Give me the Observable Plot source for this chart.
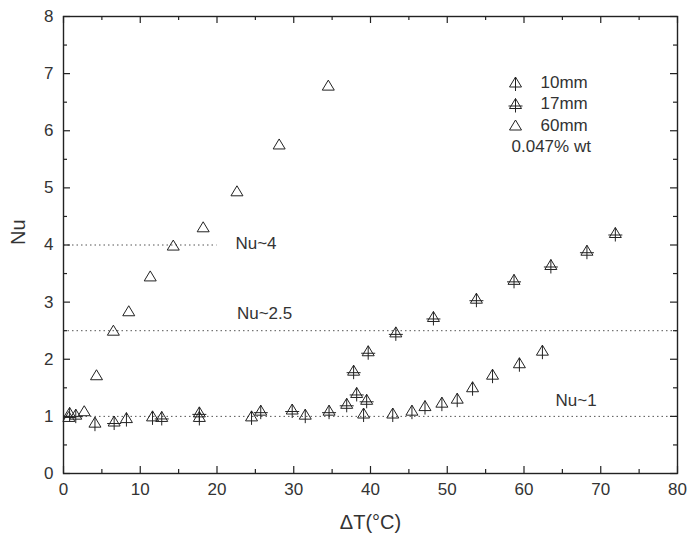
<!DOCTYPE html>
<html>
<head>
<meta charset="utf-8">
<script src="https://cdn.jsdelivr.net/npm/d3@7"></script>
<script src="https://cdn.jsdelivr.net/npm/@observablehq/plot@0.6"></script>
<style>
  html, body { margin: 0; padding: 0; background: #fff; }
  #chart { width: 687px; height: 540px; }
</style>
</head>
<body>
<div id="chart"></div>
<script>
// ---- Data ----
const series = ["10mm", "17mm", "60mm"];

const dT10 = [0.8, 4.1, 8.2, 11.6, 17.7, 24.5, 31.5, 39.1, 42.9, 45.4, 47.1, 49.3, 51.3, 53.3, 55.9, 59.4, 62.4];
const nu10 = [1.06, 0.89, 0.97, 1.00, 0.99, 1.00, 1.03, 1.05, 1.05, 1.10, 1.18, 1.24, 1.31, 1.51, 1.73, 1.93, 2.15];

const dT17 = [1.6, 6.6, 12.8, 17.7, 25.7, 29.8, 34.6, 36.9, 38.2, 37.8, 39.5, 39.7, 43.3, 48.2, 53.8, 58.7, 63.5, 68.2, 71.9];
const nu17 = [1.03, 0.91, 0.99, 1.07, 1.10, 1.12, 1.10, 1.22, 1.41, 1.80, 1.29, 2.14, 2.47, 2.74, 3.06, 3.39, 3.65, 3.90, 4.21];

const dT60 = [0.7, 2.7, 4.3, 6.5, 8.5, 11.3, 14.3, 18.2, 22.6, 28.1, 34.5];
const nu60 = [0.99, 1.09, 1.72, 2.50, 2.84, 3.45, 3.99, 4.31, 4.94, 5.76, 6.79];

const refNu = [4, 2.5, 1];
const refFrom = [0, 0, 0];
const refTo = [20, 80, 80];

const annText = ["Nu~4", "Nu~2.5", "Nu~1"];
const annX = [22.4, 22.6, 64.1];
const annY = [4.03, 2.80, 1.28];

const noteText = "0.047% wt";
const xTicks = [0, 10, 20, 30, 40, 50, 60, 70, 80];
const xMinor = [5, 15, 25, 35, 45, 55, 65, 75];
const yTicks = [0, 1, 2, 3, 4, 5, 6, 7, 8];
const yMinor = [0.5, 1.5, 2.5, 3.5, 4.5, 5.5, 6.5, 7.5];
const xLabel = "ΔT(°C)";
const yLabel = "Nu";

// ---- Build tables ----
const zip = (xs, ys) => xs.map((x, i) => ({dT: x, nu: ys[i]}));
const d10 = zip(dT10, nu10);
const d17 = zip(dT17, nu17);
const d60 = zip(dT60, nu60);
const refLines = refNu.map((n, i) => ({nu: n, x1: refFrom[i], x2: refTo[i]}));
const annotations = annText.map((t, i) => ({text: t, x: annX[i], y: annY[i]}));

// ---- Symbols ----
function makeSym(kind) {
  return {
    draw(ctx, size) {
      const s = Math.sqrt(size / Math.PI) / 6;
      ctx.moveTo(0, -5.5 * s);
      ctx.lineTo(6 * s, 4.5 * s);
      ctx.lineTo(-6 * s, 4.5 * s);
      ctx.closePath();
      if (kind !== "open") {
        ctx.moveTo(0, -5.5 * s);
        ctx.lineTo(0, 8.5 * s);
      }
      if (kind === "cross") {
        ctx.moveTo(-7 * s, 2 * s);
        ctx.lineTo(7 * s, 2 * s);
      }
    }
  };
}
const symbols = [makeSym("line"), makeSym("cross"), makeSym("open")];
const datasets = [d10, d17, d60];

// ---- Layout ----
const W = 687, H = 540, mL = 63, mR = 10, mT = 16, mB = 67;
const innerW = W - mL - mR, innerH = H - mT - mB;
const ink = "#222";
const txt = "#333";
const FS = 17;

const marks = [
  Plot.ruleY(refLines, {y: "nu", x1: "x1", x2: "x2", stroke: "#555", strokeDasharray: "1.5,3", strokeWidth: 1})
];
datasets.forEach((d, i) => {
  marks.push(Plot.dot(d, {x: "dT", y: "nu", r: 6, symbol: symbols[i], stroke: ink, fill: "none", strokeWidth: 1}));
});
marks.push(
  Plot.text(annotations, {x: "x", y: "y", text: "text", textAnchor: "start", fontSize: FS, fill: txt}),
  Plot.frame({stroke: ink, strokeWidth: 1.4}),
  // inward ticks, bottom and top
  Plot.tickX(xTicks, {x: d => d, insetTop: innerH - 7, stroke: ink, strokeWidth: 1.2}),
  Plot.tickX(xMinor, {x: d => d, insetTop: innerH - 4, stroke: ink, strokeWidth: 1.2}),
  Plot.tickX(xTicks, {x: d => d, insetBottom: innerH - 7, stroke: ink, strokeWidth: 1.2}),
  Plot.tickX(xMinor, {x: d => d, insetBottom: innerH - 4, stroke: ink, strokeWidth: 1.2}),
  // inward ticks, left and right
  Plot.tickY(yTicks, {y: d => d, insetRight: innerW - 7, stroke: ink, strokeWidth: 1.2}),
  Plot.tickY(yMinor, {y: d => d, insetRight: innerW - 4, stroke: ink, strokeWidth: 1.2}),
  Plot.tickY(yTicks, {y: d => d, insetLeft: innerW - 7, stroke: ink, strokeWidth: 1.2}),
  Plot.tickY(yMinor, {y: d => d, insetLeft: innerW - 4, stroke: ink, strokeWidth: 1.2}),
  Plot.axisX(xTicks, {tickSize: 0, tickPadding: 9, fontSize: FS, fill: txt, label: null, tickFormat: d3.format("d")}),
  Plot.axisY(yTicks, {tickSize: 0, tickPadding: 10, fontSize: FS, fill: txt, label: null, tickFormat: d3.format("d")}),
  Plot.text([xLabel], {text: d => d, frameAnchor: "bottom", lineAnchor: "middle", dy: 49, fontSize: 20, fill: txt}),
  Plot.text([yLabel], {text: d => d, frameAnchor: "left", lineAnchor: "middle", dx: -45, rotate: -90, fontSize: 20, fill: txt})
);
// legend
series.forEach((name, i) => {
  const dy = 66 + i * 21.5;
  marks.push(
    Plot.dot([name], {frameAnchor: "top-right", dx: -162, dy, r: 6, symbol: symbols[i], stroke: ink, fill: "none", strokeWidth: 1}),
    Plot.text([name], {text: d => d, frameAnchor: "top-right", lineAnchor: "middle", dx: -137, dy, textAnchor: "start", fontSize: FS, fill: txt})
  );
});
marks.push(
  Plot.text([noteText], {text: d => d, frameAnchor: "top-right", lineAnchor: "middle", dx: -166, dy: 66 + 3 * 21.5, textAnchor: "start", fontSize: FS, fill: txt})
);

const chart = Plot.plot({
  width: W,
  height: H,
  marginLeft: mL,
  marginRight: mR,
  marginTop: mT,
  marginBottom: mB,
  style: {fontFamily: "'Liberation Sans', Arial, sans-serif", background: "#fff", color: ink},
  x: {domain: [0, 80]},
  y: {domain: [0, 8]},
  marks
});
document.getElementById("chart").appendChild(chart);
</script>
</body>
</html>
